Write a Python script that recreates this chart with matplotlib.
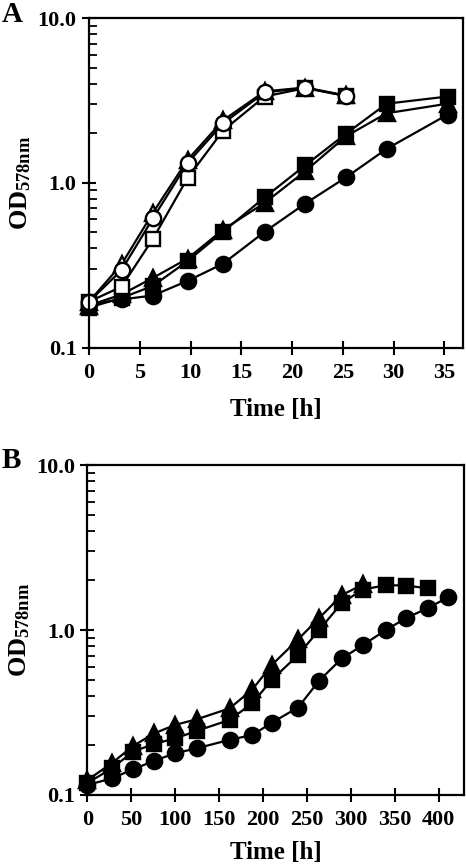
import numpy as np
import matplotlib
matplotlib.use("Agg")
import matplotlib.pyplot as plt

plt.rcParams['font.family'] = 'Liberation Serif'
plt.rcParams['font.weight'] = 'bold'
plt.rcParams['mathtext.fontset'] = 'custom'
plt.rcParams['mathtext.rm'] = 'Liberation Serif:bold'
plt.rcParams['mathtext.it'] = 'Liberation Serif:bold'
plt.rcParams['mathtext.bf'] = 'Liberation Serif:bold'

# Panel A: time [h] and OD578nm
time_a = [0, 3.2, 6.3, 9.7, 13.2, 17.3, 21.3, 25.3, 29.3, 35.3]
a_open_triangle = [0.19, 0.32, 0.66, 1.38, 2.40, 3.60, 3.80, 3.40]
a_open_circle = [0.19, 0.295, 0.61, 1.32, 2.30, 3.55, 3.78, 3.38]
a_open_square = [0.19, 0.234, 0.458, 1.07, 2.08, 3.35, 3.77, 3.38]
a_filled_square = [0.175, 0.20, 0.237, 0.335, 0.505, 0.818, 1.28, 1.99, 3.03, 3.35]
a_filled_triangle = [0.18, 0.21, 0.265, 0.347, 0.52, 0.757, 1.18, 1.92, 2.65, 3.03]
a_filled_circle = [0.183, 0.196, 0.207, 0.254, 0.323, 0.505, 0.75, 1.08, 1.61, 2.60]

# Panel B
time_b = [0, 28, 52, 76, 100, 125, 162, 188, 210, 240, 264, 290, 314, 340, 363, 388, 411]
b_triangle = [0.123, 0.156, 0.198, 0.236, 0.266, 0.288, 0.335, 0.436, 0.613, 0.877, 1.18, 1.63, 1.89]
b_square = [0.118, 0.145, 0.183, 0.204, 0.22, 0.245, 0.285, 0.36, 0.498, 0.705, 1.0, 1.46, 1.76, 1.87, 1.86, 1.79]
b_circle = [0.115, 0.126, 0.143, 0.161, 0.179, 0.192, 0.216, 0.231, 0.274, 0.339, 0.493, 0.673,
            0.811, 1.0, 1.18, 1.36, 1.58]

fig = plt.figure(figsize=(4.66, 8.66), dpi=100)
ax_a = fig.add_axes([0.191, 0.5987, 0.802, 0.3801])
ax_b = fig.add_axes([0.1873, 0.082, 0.8084, 0.381])

lw = 1.6
ms = 11


def line(ax, x, y, marker, filled, ms_=ms):
    ax.plot(x[:len(y)], y, color='black', lw=lw, marker=marker, ms=ms_,
            mfc='black' if filled else 'white', mec='black', mew=1.7, clip_on=False)


line(ax_a, time_a, a_filled_circle, 'o', True)
line(ax_a, time_a, a_filled_triangle, '^', True)
line(ax_a, time_a, a_filled_square, 's', True, 10.5)
line(ax_a, time_a, a_open_square, 's', False, 10.5)
line(ax_a, time_a, a_open_triangle, '^', False)
line(ax_a, time_a, a_open_circle, 'o', False)

line(ax_b, time_b, b_circle, 'o', True)
line(ax_b, time_b, b_square, 's', True, 10.5)
line(ax_b, time_b, b_triangle, '^', True)


def style(ax, xmax, xticks, labelpad):
    ax.set_yscale('log')
    ax.set_ylim(0.1, 10)
    ax.set_xlim(0, xmax)
    ax.set_xticks(xticks)
    ax.set_xticklabels([str(t) for t in xticks])
    ax.set_yticks([0.1, 1, 10])
    ax.set_yticklabels(['0.1', '1.0', '10.0'])
    ax.yaxis.set_minor_locator(matplotlib.ticker.LogLocator(subs=np.arange(2, 10)))
    ax.yaxis.set_minor_formatter(matplotlib.ticker.NullFormatter())
    for s in ax.spines.values():
        s.set_linewidth(1.6)
    ax.tick_params(axis='both', which='major', direction='inout', length=10, width=1.5,
                   labelsize=16)
    ax.tick_params(axis='x', which='major', pad=6)
    ax.tick_params(axis='y', which='major', pad=4)
    ax.tick_params(axis='y', which='minor', direction='in', length=6, width=1.3)
    ax.set_xlabel('Time [h]', fontsize=18, fontweight='bold', labelpad=labelpad)
    ax.set_ylabel(r'OD$_{\mathrm{578nm}}$', fontsize=19, fontweight='bold', labelpad=3)


style(ax_a, 36.8, [0, 5, 10, 15, 20, 25, 30, 35], 11)
style(ax_b, 429, [0, 50, 100, 150, 200, 250, 300, 350, 400], 8)

fig.text(2 / 466, 1 - 14 / 866, 'A', fontsize=21, fontweight='bold', ha='left', va='center')
fig.text(2 / 466, 1 - 461 / 866, 'B', fontsize=21, fontweight='bold', ha='left', va='center')

fig.savefig('out.png', dpi=100)
